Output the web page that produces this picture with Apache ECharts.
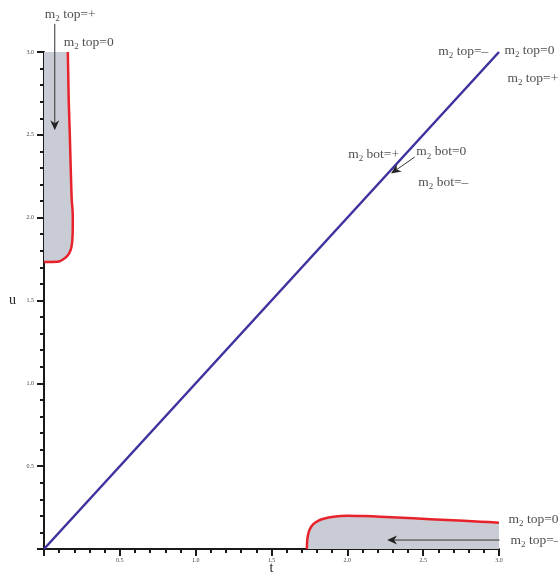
<!DOCTYPE html>
<html><head><meta charset="utf-8">
<script src="https://cdn.jsdelivr.net/npm/echarts@6/dist/echarts.min.js"></script>
<style>html,body{margin:0;padding:0;background:#fff}#c{width:558px;height:576px}</style>
</head><body><div id="c"></div>
<script>
// Top-left boundary curve (t,u)
var curveTopT = [0.0, 0.09, 0.137, 0.165, 0.181, 0.188, 0.190, 0.188, 0.183, 0.176, 0.170, 0.163, 0.159, 0.157];
var curveTopU = [1.733, 1.734, 1.755, 1.783, 1.823, 1.884, 1.984, 2.05, 2.105, 2.306, 2.507, 2.708, 2.909, 3.0];
// Bottom-right boundary curve (t,u)
var curveBotT = [1.733, 1.737, 1.750, 1.777, 1.810, 1.843, 1.909, 1.997, 2.107, 2.217, 2.437, 2.658, 2.878, 3.0];
var curveBotU = [0.0, 0.065, 0.115, 0.151, 0.171, 0.183, 0.195, 0.201, 0.199, 0.195, 0.185, 0.175, 0.165, 0.159];
// Diagonal u = t
var diagT = [0, 3];
var diagU = [0, 3];
// Annotations
var annText = ['top=+', 'top=0', 'top=\u2013', 'top=0', 'top=+', 'bot=+', 'bot=0', 'bot=\u2013', 'top=0', 'top=\u2013'];
var annT = [0.005, 0.130, 2.600, 3.036, 3.056, 2.006, 2.455, 2.468, 3.063, 3.076];
var annU = [3.227, 3.058, 3.004, 3.010, 2.841, 2.382, 2.397, 2.214, 0.181, 0.054];
// Arrows: from (t,u) to (t,u)
var arrowFromT = [0.071, 2.444, 3.003];
var arrowFromU = [3.17, 2.366, 0.054];
var arrowToT = [0.071, 2.288, 2.262];
var arrowToU = [2.527, 2.266, 0.054];
var tickVals = [0.5, 1.0, 1.5, 2.0, 2.5, 3.0];

function pairs(a, b) { return a.map(function (v, i) { return [v, b[i]]; }); }

var chart = echarts.init(document.getElementById('c'));
var axisCommon = {
  type: 'value', min: 0, max: 3, interval: 0.5,
  axisLine: { show: true, onZero: false, lineStyle: { color: '#1a1a1a', width: 2 } },
  axisTick: { show: true, length: 7, lineStyle: { color: '#1a1a1a', width: 2 } },
  minorTick: { show: true, splitNumber: 5, length: 4, lineStyle: { color: '#1a1a1a', width: 2 } },
  splitLine: { show: false },
  axisLabel: { fontFamily: 'Liberation Serif', fontSize: 6, color: '#444',
    formatter: function (v) { return tickVals.indexOf(v) >= 0 ? v.toFixed(1) : ''; } },
  nameLocation: 'middle',
  nameMoveOverlap: false,
  nameTextStyle: { fontFamily: 'Liberation Serif', fontSize: 14, color: '#222' }
};

function polyRender(ts, us, extra) {
  return function (params, api) {
    var pts = ts.map(function (t, i) { return api.coord([t, us[i]]); });
    extra.forEach(function (p) { pts.push(api.coord(p)); });
    return { type: 'polygon', shape: { points: pts }, style: { fill: '#c9ccd4' } };
  };
}

var richStyle = {
  m: { fontFamily: 'Liberation Serif', fontSize: 13.5, color: '#222', lineHeight: 18, verticalAlign: 'middle' },
  s: { fontFamily: 'Liberation Serif', fontSize: 9, color: '#222', lineHeight: 18, verticalAlign: 'bottom' }
};

var annData = annText.map(function (txt, i) {
  return { value: [annT[i], annU[i]], label: { formatter: '{m|m}{s|2}{m| ' + txt + '}' } };
});

chart.setOption({
  animation: false,
  grid: { left: 44, right: 59, top: 52, bottom: 27, containLabel: false, outerBoundsMode: 'none' },
  xAxis: Object.assign({}, axisCommon, { name: 't', nameGap: 12,
    axisLabel: Object.assign({}, axisCommon.axisLabel, { margin: 8 }) }),
  yAxis: Object.assign({}, axisCommon, { name: 'u', nameGap: 28, nameRotate: 0,
    axisLabel: Object.assign({}, axisCommon.axisLabel, { margin: 10 }) }),
  series: [
    { type: 'custom', renderItem: polyRender(curveTopT, curveTopU, [[0, 3], [0, 1.733]]), data: [[0, 0]], silent: true, z: 1 },
    { type: 'custom', renderItem: polyRender(curveBotT, curveBotU, [[3, 0], [1.733, 0]]), data: [[0, 0]], silent: true, z: 1 },
    { type: 'line', data: pairs(curveTopT, curveTopU), showSymbol: false, smooth: 0.3,
      lineStyle: { color: '#e8222a', width: 2.5 }, z: 3 },
    { type: 'line', data: pairs(curveBotT, curveBotU), showSymbol: false, smooth: 0.3,
      lineStyle: { color: '#e8222a', width: 2.5 }, z: 3 },
    { type: 'line', data: pairs(diagT, diagU), showSymbol: false,
      lineStyle: { color: '#3d329e', width: 2.5 }, z: 4 },
    { type: 'scatter', data: annData, symbolSize: 0, clip: false, silent: true, z: 5,
      label: { show: true, position: 'right', distance: 0, rich: richStyle } }
  ]
});

// Arrows placed through the chart's own coordinate conversion
var arrowEls = [];
arrowFromT.forEach(function (t, i) {
  var p0 = chart.convertToPixel({ gridIndex: 0 }, [t, arrowFromU[i]]);
  var p1 = chart.convertToPixel({ gridIndex: 0 }, [arrowToT[i], arrowToU[i]]);
  var dx = p1[0] - p0[0], dy = p1[1] - p0[1];
  var len = Math.sqrt(dx * dx + dy * dy);
  var ux = dx / len, uy = dy / len, nx = -uy, ny = ux;
  var hl = 10, hw = 4.5, notch = 3;
  var base = [p1[0] - ux * hl, p1[1] - uy * hl];
  var mid = [p1[0] - ux * (hl - notch), p1[1] - uy * (hl - notch)];
  arrowEls.push({ type: 'line', silent: true, z: 10,
    shape: { x1: p0[0], y1: p0[1], x2: mid[0], y2: mid[1] },
    style: { stroke: '#333', lineWidth: 1 } });
  arrowEls.push({ type: 'polygon', silent: true, z: 10,
    shape: { points: [p1, [base[0] + nx * hw, base[1] + ny * hw], mid, [base[0] - nx * hw, base[1] - ny * hw]] },
    style: { fill: '#222' } });
});
chart.setOption({ graphic: { elements: arrowEls } });
</script></body></html>
